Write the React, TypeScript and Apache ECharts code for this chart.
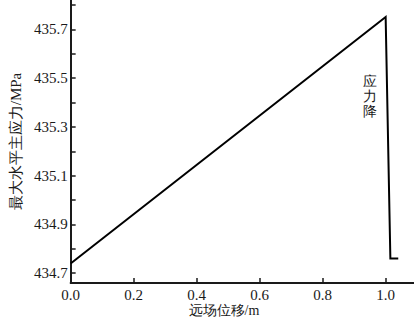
import React, { useEffect, useRef } from "react";
import * as echarts from "echarts";

const xValues = [0, 1.0, 1.015, 1.04];
const yValues = [434.74, 435.75, 434.76, 434.76];
const xTickLabels = [0, 0.2, 0.4, 0.6, 0.8, 1.0];
const yTickLabels = [434.7, 434.9, 435.1, 435.3, 435.5, 435.7];
const yTicks = [434.7, 434.8, 434.9, 435.0, 435.1, 435.2, 435.3, 435.4, 435.5, 435.6, 435.7, 435.8];
const xAxisTitle = "远场位移/m";
const yAxisTitle = "最大水平主应力/MPa";
const annotation = "应力降";

const FONT = "Liberation Serif";

export default function App() {
  const ref = useRef<HTMLDivElement>(null);
  useEffect(() => {
    if (!ref.current) return;
    const chart = echarts.init(ref.current, null, { renderer: "svg" });
    const data = xValues.map((x, i) => [x, yValues[i]]);
    chart.setOption({
      animation: false,
      backgroundColor: "#fff",
      textStyle: { fontFamily: FONT },
      grid: { left: 64, right: 0, top: 0, bottom: 35, containLabel: false },
      xAxis: {
        type: "value",
        min: 0,
        max: 1.09,
        axisLine: { show: true, lineStyle: { color: "#1a1a1a", width: 2 } },
        axisTick: { show: true, inside: true, length: 5, customValues: xTickLabels, lineStyle: { color: "#1a1a1a", width: 1.5 } },
        axisLabel: {
          customValues: xTickLabels,
          formatter: (v: number) => v.toFixed(1),
          color: "#1a1a1a",
          fontFamily: FONT,
          fontSize: 15,
          margin: 4,
          lineHeight: 15,
        },
        splitLine: { show: false },
      },
      yAxis: {
        type: "value",
        min: 434.66,
        max: 435.82,
        name: yAxisTitle,
        nameLocation: "middle",
        nameRotate: 90,
        nameGap: 43,
        nameTextStyle: { color: "#1a1a1a", fontFamily: FONT, fontSize: 15 },
        axisLine: { show: true, lineStyle: { color: "#1a1a1a", width: 2 } },
        axisTick: { show: true, inside: true, length: 5, customValues: yTicks, lineStyle: { color: "#1a1a1a", width: 1.5 } },
        axisLabel: {
          customValues: yTickLabels,
          formatter: (v: number) => v.toFixed(1),
          color: "#1a1a1a",
          fontFamily: FONT,
          fontSize: 15,
          margin: 3,
        },
        splitLine: { show: false },
      },
      graphic: [
        {
          type: "text",
          x: 224,
          y: 310,
          style: {
            text: xAxisTitle,
            fill: "#1a1a1a",
            fontFamily: FONT,
            fontSize: 14,
            align: "center",
            verticalAlign: "middle",
          },
        },
        {
          type: "text",
          x: 370,
          y: 74,
          style: {
            text: annotation.split("").join("\n"),
            fill: "#1a1a1a",
            fontFamily: FONT,
            fontSize: 14,
            lineHeight: 15,
            align: "center",
            verticalAlign: "top",
          },
        },
      ],
      series: [
        {
          type: "line",
          data,
          symbol: "none",
          lineStyle: { color: "#000", width: 2, join: "miter" },
        },
      ],
    });
    return () => chart.dispose();
  }, []);
  return <div ref={ref} style={{ width: 414, height: 318, position: "absolute", left: 0, top: 0 }} />;
}
